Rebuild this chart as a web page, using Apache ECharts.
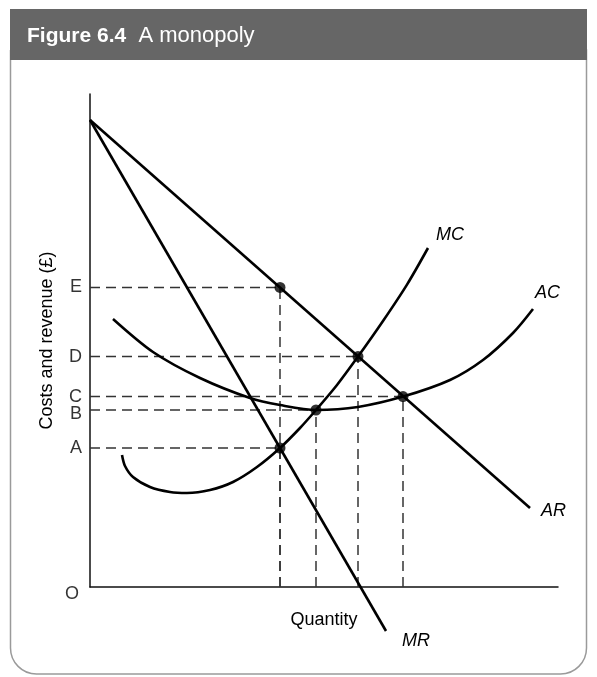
<!DOCTYPE html>
<html>
<head>
<meta charset="utf-8">
<script src="https://cdn.jsdelivr.net/npm/echarts@6/dist/echarts.min.js"></script>
<style>
  html, body { margin: 0; padding: 0; background: #fff; }
  #main { width: 597px; height: 677px; }
</style>
</head>
<body>
<div id="main"></div>
<script>
// quantity / price in arbitrary units
const arLine = [[0, 116.75], [110, 19.75]];
const mrLine = [[0, 116.75], [74, -11]];
const mcCurve = [
  [8, 33], [8.75, 30.25], [10.75, 27.5], [15, 25], [20, 23.75], [24.25, 23.5],
  [30, 24.25], [35.75, 26.25], [41.75, 30], [47.5, 34.75], [52.5, 39.75],
  [56.5, 44.25], [61.75, 50.5], [67, 57.6], [73.25, 66.5], [79.25, 75.6], [84.5, 84.75]
];
const acCurve = [
  [5.75, 67], [15.75, 58.75], [27.5, 52.25], [40, 47.25], [47.5, 45.5],
  [56.5, 44.25], [67, 45], [78.25, 47.6], [90, 51.75], [98.25, 56.75],
  [105.75, 63.5], [110.75, 69.5]
];
// marked points: [quantity, price, letter on the price axis]
const keyPoints = [
  [47.5, 74.9, 'E'],
  [67, 57.6, 'D'],
  [78.25, 47.6, 'C'],
  [56.5, 44.25, 'B'],
  [47.5, 34.75, 'A']
];

const font = '"Liberation Sans", Arial, sans-serif';
const myChart = echarts.init(document.getElementById('main'));

// dashed guide lines from each point to both axes
let guides = [];
keyPoints.forEach(p => {
  guides.push([[0, p[1]], [p[0], p[1]]]);
  guides.push([[p[0], 0], [p[0], p[1]]]);
});
const dashSeries = guides.map(seg => ({
  type: 'line',
  data: seg,
  symbol: 'none',
  silent: true,
  z: 1,
  lineStyle: { color: '#333', width: 1.5, type: [10, 6] }
}));

function curve(data, name, offset, smooth) {
  return {
    type: 'line',
    name: name,
    data: data,
    smooth: smooth,
    symbol: 'none',
    clip: false,
    z: 3,
    lineStyle: { color: '#000', width: 2.6 },
    endLabel: {
      show: true,
      formatter: name,
      offset: offset,
      fontFamily: font,
      fontStyle: 'italic',
      fontSize: 18,
      color: '#000'
    }
  };
}

const option = {
  animation: false,
  graphic: [
    {
      type: 'rect',
      shape: { x: 10.5, y: 50, width: 576, height: 624, r: [0, 0, 26, 26] },
      style: { fill: 'none', stroke: '#9a9a9a', lineWidth: 1.5 },
      z: -10
    },
    {
      type: 'rect',
      shape: { x: 10, y: 9, width: 577, height: 51 },
      style: { fill: '#666666' },
      z: -5
    },
    {
      type: 'text',
      x: 27, y: 36,
      style: {
        text: '{b|Figure 6.4}  A monopoly',
        fill: '#fff',
        font: '22px ' + font,
        verticalAlign: 'middle',
        rich: { b: { fontWeight: 'bold', fontSize: 21, fontFamily: font, fill: '#fff' } }
      }
    }
  ],
  grid: { left: 90, right: 39, top: 94, bottom: 90 },
  xAxis: {
    type: 'value',
    min: 0,
    max: 117,
    name: 'Quantity',
    nameLocation: 'middle',
    nameGap: 24,
    nameTextStyle: { fontFamily: font, fontSize: 18, color: '#000' },
    axisLine: { lineStyle: { color: '#111', width: 1.5 } },
    axisTick: { show: false },
    axisLabel: { show: false },
    splitLine: { show: false }
  },
  yAxis: {
    type: 'value',
    min: 0,
    max: 123.25,
    name: 'Costs and revenue (£)',
    nameLocation: 'middle',
    nameGap: 34,
    nameRotate: 90,
    nameTextStyle: { fontFamily: font, fontSize: 18, color: '#000' },
    axisLine: { show: true, lineStyle: { color: '#111', width: 1.5 } },
    axisTick: { show: false },
    axisLabel: { show: false },
    splitLine: { show: false }
  },
  series: dashSeries.concat([
    curve(arLine, 'AR', [3, 3], false),
    curve(mrLine, 'MR', [8, 10], false),
    curve(mcCurve, 'MC', [0, -13], 0.3),
    curve(acCurve, 'AC', [-6, -16], 0.3),
    {
      type: 'scatter',
      data: keyPoints.map(p => [p[0], p[1]]),
      symbol: 'circle',
      symbolSize: 11,
      itemStyle: { color: '#000' },
      z: 5
    },
    {
      // letters on the price axis and the origin
      type: 'scatter',
      data: keyPoints.map(p => ({
        value: [0, p[1]],
        label: { formatter: p[2], offset: p[2] === 'B' ? [0, 4] : [0, 0] }
      })).concat([{ value: [0, 0], label: { formatter: 'O', offset: [-3, 7] } }]),
      symbolSize: 0,
      silent: true,
      label: {
        show: true,
        position: 'left',
        distance: 8,
        fontFamily: font,
        fontSize: 18,
        color: '#000'
      }
    }
  ])
};
myChart.setOption(option);
</script>
</body>
</html>
